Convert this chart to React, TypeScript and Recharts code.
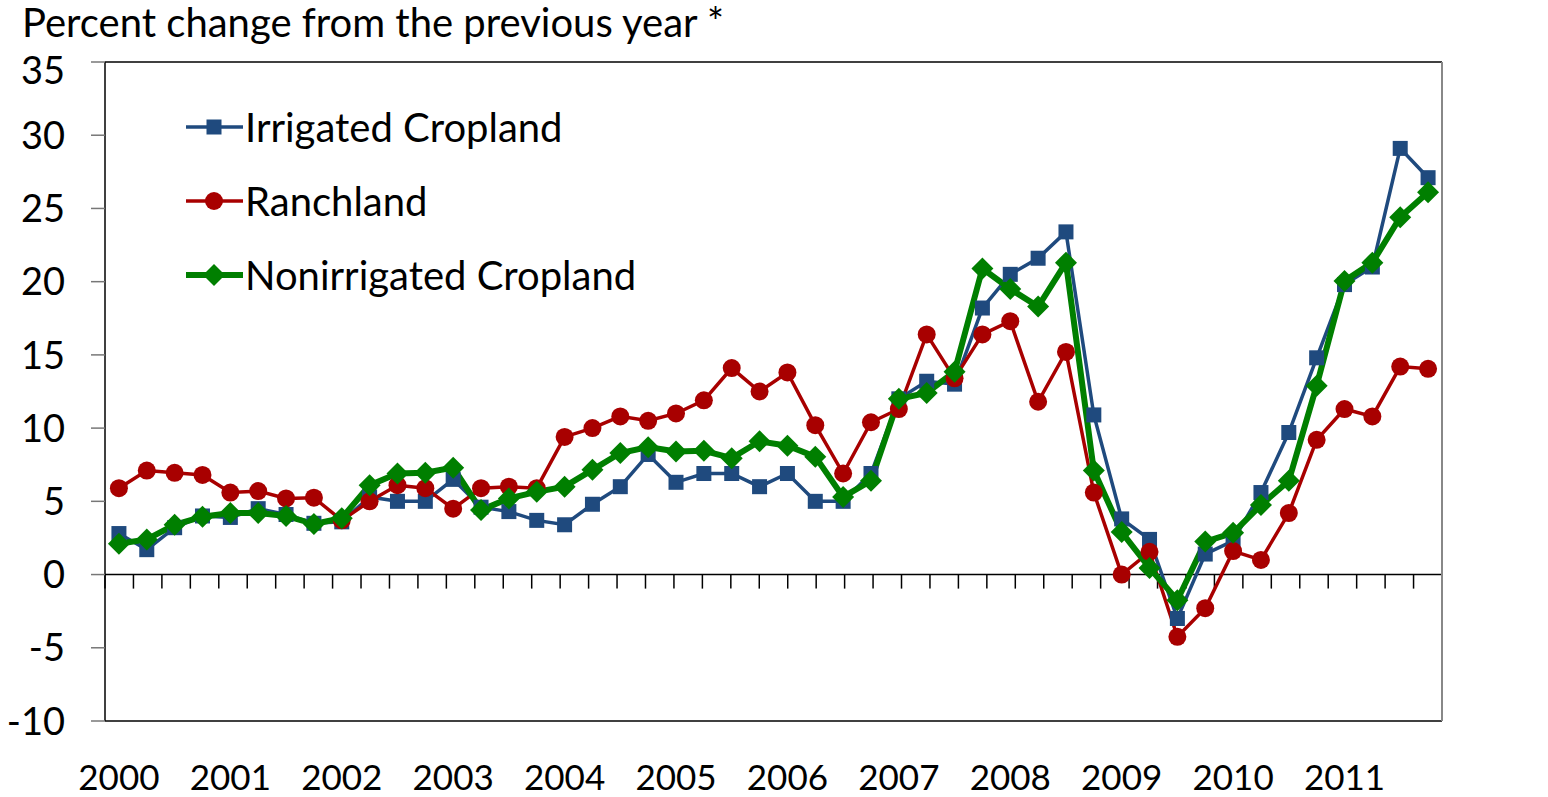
import React from 'react';
import { LineChart, Line, XAxis, YAxis, ReferenceLine } from 'recharts';

// quarterly series, 2000Q1 .. 2011Q4
const YEARS = ['2000', '2001', '2002', '2003', '2004', '2005', '2006', '2007', '2008', '2009', '2010', '2011'];
const QUARTERS = YEARS.flatMap((y) => ['Q1', 'Q2', 'Q3', 'Q4'].map((q) => y + q));

const irrigated = [
  2.8, 1.7, 3.2, 4.0, 3.9, 4.5, 4.1, 3.5, 3.6, 5.3, 5.0, 5.0,
  6.5, 4.6, 4.3, 3.7, 3.4, 4.8, 6.0, 8.2, 6.3, 6.9, 6.9, 6.0,
  6.9, 5.0, 5.0, 6.9, 12.0, 13.2, 13.0, 18.2, 20.5, 21.6, 23.4, 10.9,
  3.8, 2.4, -3.0, 1.4, 2.3, 5.6, 9.7, 14.8, 19.8, 21.0, 29.1, 27.1,
];
const ranchland = [
  5.9, 7.1, 6.95, 6.8, 5.6, 5.7, 5.2, 5.25, 3.7, 5.0, 6.1, 5.9,
  4.5, 5.9, 6.0, 5.9, 9.4, 10.0, 10.8, 10.5, 11.0, 11.9, 14.1, 12.5,
  13.8, 10.2, 6.9, 10.4, 11.3, 16.4, 13.4, 16.4, 17.3, 11.8, 15.2, 5.6,
  0.0, 1.55, -4.25, -2.3, 1.6, 1.0, 4.2, 9.2, 11.3, 10.8, 14.2, 14.05,
];
const nonirrigated = [
  2.1, 2.4, 3.4, 3.95, 4.2, 4.2, 4.0, 3.45, 3.85, 6.1, 6.9, 6.95,
  7.3, 4.4, 5.2, 5.65, 6.0, 7.15, 8.3, 8.7, 8.4, 8.45, 7.95, 9.1,
  8.8, 8.05, 5.3, 6.4, 12.0, 12.4, 13.85, 20.9, 19.5, 18.3, 21.3, 7.1,
  2.9, 0.45, -1.75, 2.25, 2.85, 4.75, 6.4, 12.9, 20.05, 21.3, 24.4, 26.1,
];
const Y_TICKS = [-10, -5, 0, 5, 10, 15, 20, 25, 30, 35];

const BLUE = '#1F4A7E';
const RED = '#A80000';
const GREEN = '#007F00';
const FONT = 'Lato, "Open Sans", sans-serif';

const data = QUARTERS.map((q, i) => ({
  quarter: q,
  irrigated: irrigated[i],
  ranchland: ranchland[i],
  nonirrigated: nonirrigated[i],
}));

// band boundaries for the little ticks hanging off the zero line
const boundaries = Array.from({ length: QUARTERS.length + 1 }, (_, k) => k);

const SquareDot = (props: any) => {
  const { cx, cy } = props;
  if (cx == null || cy == null) return <g />;
  return <rect x={cx - 7.5} y={cy - 7.5} width={15} height={15} fill={BLUE} />;
};
const CircleDot = (props: any) => {
  const { cx, cy } = props;
  if (cx == null || cy == null) return <g />;
  return <circle cx={cx} cy={cy} r={9} fill={RED} />;
};
const DiamondDot = (props: any) => {
  const { cx, cy } = props;
  if (cx == null || cy == null) return <g />;
  const r = 11;
  return <polygon points={`${cx},${cy - r} ${cx + r},${cy} ${cx},${cy + r} ${cx - r},${cy}`} fill={GREEN} />;
};

const YearTick = (props: any) => {
  const { x, y, payload } = props;
  if (!String(payload.value).endsWith('Q1')) return <g />;
  return (
    <text x={x} y={y + 61} textAnchor="middle" fontSize={35} fontFamily={FONT} fill="#000">
      {String(payload.value).slice(0, 4)}
    </text>
  );
};

// top label sits a little below its gridline, like the original
const ValueTick = (props: any) => {
  const { x, y, payload, textAnchor } = props;
  const shift = payload.value === 35 ? 8 : 0;
  return (
    <text x={x} y={y + shift} dy="0.36em" textAnchor={textAnchor} fontSize={38} fontFamily={FONT} fill="#000">
      {payload.value}
    </text>
  );
};

const legendItems = [
  { label: 'Irrigated Cropland', color: BLUE, width: 3.5, Dot: SquareDot },
  { label: 'Ranchland', color: RED, width: 3.5, Dot: CircleDot },
  { label: 'Nonirrigated Cropland', color: GREEN, width: 6, Dot: DiamondDot },
];

const ChartLegend = () => (
  <div style={{ position: 'absolute', left: 185, top: 90 }}>
    {legendItems.map((it) => (
      <div key={it.label} style={{ display: 'flex', alignItems: 'center', height: 74 }}>
        <svg width={58} height={30}>
          <line x1={1} y1={15} x2={58} y2={15} stroke={it.color} strokeWidth={it.width} />
          <it.Dot cx={29} cy={15} />
        </svg>
        <span style={{ fontFamily: FONT, fontSize: 40, color: '#000', marginLeft: 2, lineHeight: '40px' }}>
          {it.label}
        </span>
      </div>
    ))}
  </div>
);

export default function App() {
  return (
    <div style={{ position: 'absolute', left: 0, top: 0, width: 1548, height: 797, background: '#fff' }}>
      <LineChart width={1548} height={797} data={data} margin={{ top: 62, right: 0, bottom: 0, left: 0 }}>
        <XAxis
          dataKey="quarter"
          scale="band"
          height={76}
          axisLine={false}
          tickLine={false}
          interval={0}
          tick={<YearTick />}
        />
        <XAxis xAxisId="grid" type="number" domain={[0, QUARTERS.length]} hide />
        <YAxis
          yAxisId="left"
          width={105}
          domain={[-10, 35]}
          ticks={Y_TICKS}
          interval={0}
          axisLine={{ stroke: '#000', strokeWidth: 1.5 }}
          tickLine={{ stroke: '#777', strokeWidth: 1.5 }}
          tickSize={14}
          tickMargin={26}
          tick={<ValueTick />}
        />
        <YAxis
          yAxisId="right"
          orientation="right"
          width={106}
          domain={[-10, 35]}
          ticks={Y_TICKS}
          interval={0}
          axisLine={{ stroke: '#888', strokeWidth: 2 }}
          tickLine={{ stroke: '#999', strokeWidth: 1.5 }}
          tickSize={14}
          tickMargin={28}
          tick={<ValueTick />}
        />
        <ReferenceLine yAxisId="left" y={35} stroke="#000" strokeWidth={1.5} />
        <ReferenceLine yAxisId="left" y={-10} stroke="#000" strokeWidth={1.5} />
        <ReferenceLine yAxisId="left" y={0} stroke="#000" strokeWidth={1.5} />
        {boundaries.map((k) => (
          <ReferenceLine
            key={k}
            xAxisId="grid"
            yAxisId="left"
            segment={[{ x: k, y: 0 }, { x: k, y: -0.96 }]}
            stroke="#000"
            strokeWidth={1.5}
          />
        ))}
        <Line
          yAxisId="left"
          dataKey="irrigated"
          name="Irrigated Cropland"
          stroke={BLUE}
          strokeWidth={3.5}
          dot={<SquareDot />}
          activeDot={false}
          isAnimationActive={false}
        />
        <Line
          yAxisId="left"
          dataKey="ranchland"
          name="Ranchland"
          stroke={RED}
          strokeWidth={3.5}
          dot={<CircleDot />}
          activeDot={false}
          isAnimationActive={false}
        />
        <Line
          yAxisId="left"
          dataKey="nonirrigated"
          name="Nonirrigated Cropland"
          stroke={GREEN}
          strokeWidth={6}
          dot={<DiamondDot />}
          activeDot={false}
          isAnimationActive={false}
        />
      </LineChart>
      <div
        style={{
          position: 'absolute', left: 22, top: -2, fontFamily: FONT, fontSize: 40, color: '#000', whiteSpace: 'nowrap',
        }}
      >
        Percent change from the previous year *
      </div>
      <ChartLegend />
    </div>
  );
}
